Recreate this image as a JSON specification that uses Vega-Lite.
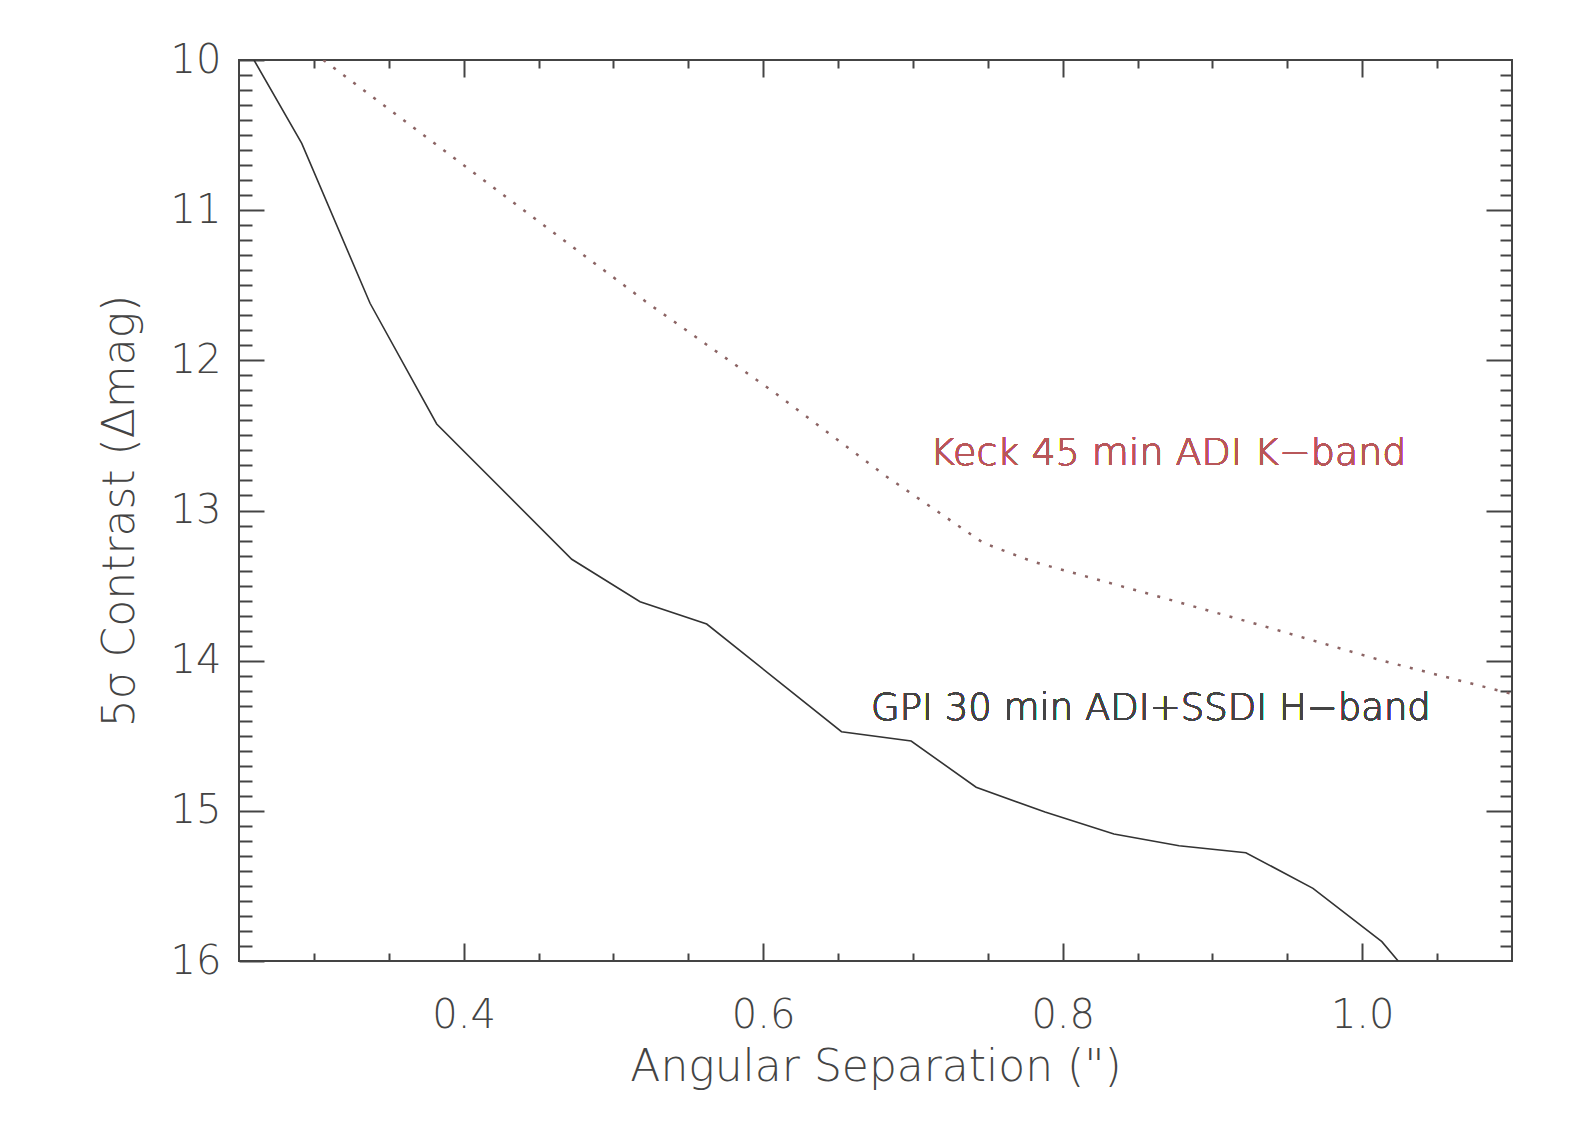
{
  "$schema": "https://vega.github.io/schema/vega-lite/v6.json",
  "width": 1273,
  "height": 901,
  "autosize": {"type": "none"},
  "padding": {"left": 239, "top": 60, "right": 61, "bottom": 176},
  "background": "#ffffff",
  "config": {
    "view": {"stroke": "#444444", "strokeWidth": 2},
    "font": "DejaVu Sans",
    "axis": {
      "domain": false,
      "grid": false,
      "tickColor": "#444444",
      "tickWidth": 2,
      "labelFont": "DejaVu Sans",
      "labelFontWeight": 200,
      "labelColor": "#444444",
      "labelFontSize": 40,
      "titleFont": "DejaVu Sans",
      "titleFontWeight": 200,
      "titleColor": "#444444",
      "titleFontSize": 44
    }
  },
  "data": {
    "values": [
      {"curve": "GPI", "sep": 0.260, "contrast": 10.00},
      {"curve": "GPI", "sep": 0.2919, "contrast": 10.555},
      {"curve": "GPI", "sep": 0.3375, "contrast": 11.62},
      {"curve": "GPI", "sep": 0.3820, "contrast": 12.424},
      {"curve": "GPI", "sep": 0.4722, "contrast": 13.325},
      {"curve": "GPI", "sep": 0.5178, "contrast": 13.607},
      {"curve": "GPI", "sep": 0.5623, "contrast": 13.756},
      {"curve": "GPI", "sep": 0.6523, "contrast": 14.473},
      {"curve": "GPI", "sep": 0.6988, "contrast": 14.535},
      {"curve": "GPI", "sep": 0.7422, "contrast": 14.843},
      {"curve": "GPI", "sep": 0.7882, "contrast": 15.008},
      {"curve": "GPI", "sep": 0.8342, "contrast": 15.154},
      {"curve": "GPI", "sep": 0.8777, "contrast": 15.232},
      {"curve": "GPI", "sep": 0.9223, "contrast": 15.279},
      {"curve": "GPI", "sep": 0.9671, "contrast": 15.516},
      {"curve": "GPI", "sep": 1.0131, "contrast": 15.871},
      {"curve": "GPI", "sep": 1.0240, "contrast": 16.0},
      {"curve": "Keck", "sep": 0.3063, "contrast": 10.0},
      {"curve": "Keck", "sep": 0.3753, "contrast": 10.515},
      {"curve": "Keck", "sep": 0.4488, "contrast": 11.065},
      {"curve": "Keck", "sep": 0.5223, "contrast": 11.614},
      {"curve": "Keck", "sep": 0.6068, "contrast": 12.209},
      {"curve": "Keck", "sep": 0.6825, "contrast": 12.775},
      {"curve": "Keck", "sep": 0.7470, "contrast": 13.216},
      {"curve": "Keck", "sep": 0.7802, "contrast": 13.341},
      {"curve": "Keck", "sep": 0.8561, "contrast": 13.551},
      {"curve": "Keck", "sep": 0.9318, "contrast": 13.763},
      {"curve": "Keck", "sep": 1.0119, "contrast": 13.996},
      {"curve": "Keck", "sep": 1.1, "contrast": 14.222}
    ]
  },
  "layer": [
    {
      "transform": [{"filter": "datum.curve == 'GPI'"}],
      "mark": {"type": "line", "color": "#333333", "strokeWidth": 1.6, "clip": true},
      "encoding": {
        "x": {
          "field": "sep", "type": "quantitative",
          "scale": {"domain": [0.25, 1.1], "nice": false, "zero": false},
          "axis": {"orient": "bottom", "values": [0.4, 0.6, 0.8, 1.0], "format": ".1f", "tickSize": -18, "labelPadding": 52, "title": "Angular Separation (\")", "titlePadding": 10, "labelFlush": false}
        },
        "y": {
          "field": "contrast", "type": "quantitative",
          "scale": {"domain": [10, 16], "nice": false, "zero": false, "reverse": true},
          "axis": {"orient": "left", "values": [10, 11, 12, 13, 14, 15, 16], "format": "d", "tickSize": -25, "labelPadding": 43, "title": "5σ Contrast (Δmag)", "titlePadding": 28, "labelFlush": false}
        }
      }
    },
    {
      "transform": [{"filter": "datum.curve == 'Keck'"}],
      "mark": {"type": "line", "color": "#8c6464", "strokeWidth": 2.5, "strokeDash": [3, 9.5], "clip": true},
      "encoding": {
        "x": {
          "field": "sep", "type": "quantitative",
          "scale": {"domain": [0.25, 1.1], "nice": false, "zero": false},
          "axis": {"orient": "top", "values": [0.4, 0.6, 0.8, 1.0], "tickSize": -17, "labels": false, "title": null}
        },
        "y": {
          "field": "contrast", "type": "quantitative",
          "scale": {"domain": [10, 16], "nice": false, "zero": false, "reverse": true},
          "axis": {"orient": "right", "values": [11, 12, 13, 14, 15], "tickSize": -26, "labels": false, "title": null}
        }
      }
    },
    {
      "mark": {"type": "text", "align": "left", "baseline": "middle", "fontSize": 38, "fontWeight": 200, "font": "DejaVu Sans", "color": "#b8575a"},
      "encoding": {
        "x": {
          "datum": 0.7114, "type": "quantitative",
          "scale": {"domain": [0.25, 1.1], "nice": false, "zero": false},
          "axis": {"orient": "bottom", "values": [0.3, 0.35, 0.45, 0.5, 0.55, 0.65, 0.7, 0.75, 0.85, 0.9, 0.95, 1.05], "tickSize": -8, "labels": false, "title": null}
        },
        "y": {
          "datum": 12.624, "type": "quantitative",
          "scale": {"domain": [10, 16], "nice": false, "zero": false, "reverse": true},
          "axis": {"orient": "left", "values": [10.1, 10.2, 10.3, 10.4, 10.5, 10.6, 10.7, 10.8, 10.9, 11.1, 11.2, 11.3, 11.4, 11.5, 11.6, 11.7, 11.8, 11.9, 12.1, 12.2, 12.3, 12.4, 12.5, 12.6, 12.7, 12.8, 12.9, 13.1, 13.2, 13.3, 13.4, 13.5, 13.6, 13.7, 13.8, 13.9, 14.1, 14.2, 14.3, 14.4, 14.5, 14.6, 14.7, 14.8, 14.9, 15.1, 15.2, 15.3, 15.4, 15.5, 15.6, 15.7, 15.8, 15.9], "tickSize": -13, "labels": false, "title": null}
        },
        "text": {"value": "Keck 45 min ADI K−band"}
      }
    },
    {
      "mark": {"type": "text", "align": "left", "baseline": "middle", "fontSize": 37, "fontWeight": 200, "font": "DejaVu Sans", "color": "#444444"},
      "encoding": {
        "x": {
          "datum": 0.672, "type": "quantitative",
          "scale": {"domain": [0.25, 1.1], "nice": false, "zero": false},
          "axis": {"orient": "top", "values": [0.3, 0.35, 0.45, 0.5, 0.55, 0.65, 0.7, 0.75, 0.85, 0.9, 0.95, 1.05], "tickSize": -8, "labels": false, "title": null}
        },
        "y": {
          "datum": 14.322, "type": "quantitative",
          "scale": {"domain": [10, 16], "nice": false, "zero": false, "reverse": true},
          "axis": {"orient": "right", "values": [10.1, 10.2, 10.3, 10.4, 10.5, 10.6, 10.7, 10.8, 10.9, 11.1, 11.2, 11.3, 11.4, 11.5, 11.6, 11.7, 11.8, 11.9, 12.1, 12.2, 12.3, 12.4, 12.5, 12.6, 12.7, 12.8, 12.9, 13.1, 13.2, 13.3, 13.4, 13.5, 13.6, 13.7, 13.8, 13.9, 14.1, 14.2, 14.3, 14.4, 14.5, 14.6, 14.7, 14.8, 14.9, 15.1, 15.2, 15.3, 15.4, 15.5, 15.6, 15.7, 15.8, 15.9], "tickSize": -12, "labels": false, "title": null}
        },
        "text": {"value": "GPI 30 min ADI+SSDI H−band"}
      }
    }
  ],
  "resolve": {"axis": {"x": "independent", "y": "independent"}}
}
